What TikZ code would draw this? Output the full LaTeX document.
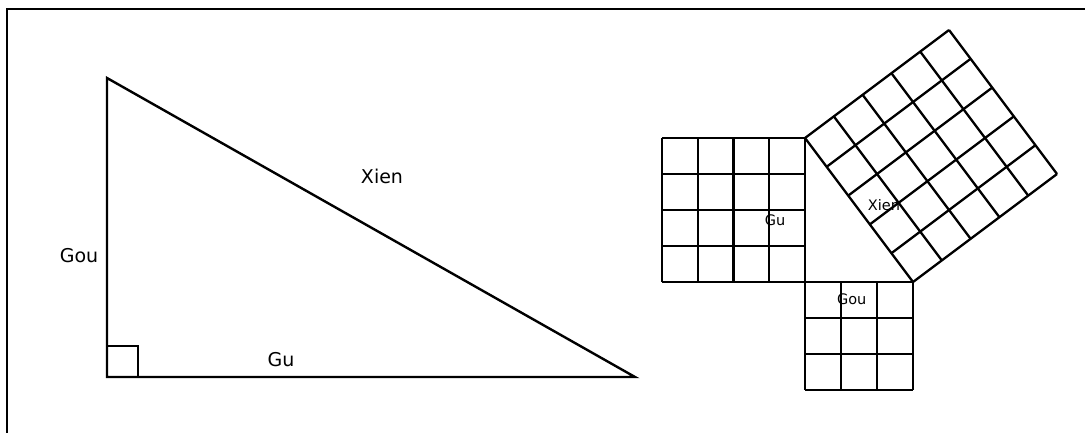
\documentclass[tikz,border=0pt]{standalone}
\usepackage{fontspec}
\setmainfont{DejaVu Sans}
\usetikzlibrary{calc}
\begin{document}
\begin{tikzpicture}[x=1pt,y=-1pt,
  edge/.style={line width=2.4pt,line join=miter},
  gridline/.style={line width=2.3pt},
  bigtxt/.style={font=\fontsize{19}{21}\selectfont,inner sep=0pt,anchor=base},
  smalltxt/.style={font=\fontsize{14.5}{16}\selectfont,inner sep=0pt,anchor=base}]
\useasboundingbox (0,0) rectangle (1085,433);
% frame (only top and left visible)
\coordinate (F1) at (7,433);
\coordinate (F2) at (7,9);
\coordinate (F3) at (1085,9);
\draw[line width=1.7pt] (F1) -- (F2) -- (F3);
% left triangle
\coordinate (A) at (107,78);
\coordinate (B) at (107,377);
\coordinate (C) at (635,377);
\draw[edge] (A) -- (B) -- (C) -- cycle;
\coordinate (S1) at (107,346);
\coordinate (S2) at (138,346);
\coordinate (S3) at (138,377);
\draw[edge] (S1) -- (S2) -- (S3);
\node[bigtxt] (gou) at (79,262) {Gou};
\node[bigtxt] (xien) at (382,184) {Xien};
\node[bigtxt] (gu) at (281,366) {Gu};
% right figure
\coordinate (R) at (805,282);
\coordinate (T) at (805,138);
\coordinate (E) at (913,282);
\coordinate (P) at (1057,174);
\coordinate (Q) at (949,30);
% Gu square 4x4
\foreach \i in {0,...,4}{
  \draw[gridline] ($(662,138)+(35.75*\i,0)$) -- ($(662,282)+(35.75*\i,0)$);
  \draw[gridline] ($(662,138)+(0,36*\i)$) -- ($(805,138)+(0,36*\i)$);
}
% Gou square 3x3
\foreach \i in {0,...,3}{
  \draw[gridline] ($(805,282)+(36*\i,0)$) -- ($(805,390)+(36*\i,0)$);
  \draw[gridline] ($(805,282)+(0,36*\i)$) -- ($(913,282)+(0,36*\i)$);
}
% Xien square 5x5
\foreach \i in {0,...,5}{
  \draw[gridline] ($(T)!\i/5!(E)$) -- ($(Q)!\i/5!(P)$);
  \draw[gridline] ($(T)!\i/5!(Q)$) -- ($(E)!\i/5!(P)$);
}
\node[smalltxt] (gu2) at (775,225.7) {Gu};
\node[smalltxt] (xien2) at (884,211) {Xien};
\node[smalltxt] (gou2) at (851.7,304.3) {Gou};
\end{tikzpicture}
\end{document}
